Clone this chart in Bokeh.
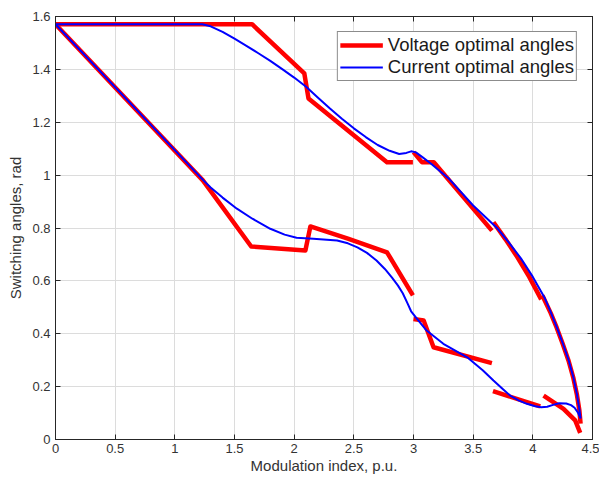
from bokeh.plotting import figure
from bokeh.models import Range1d, FixedTicker, LinearAxis, Legend, LegendItem
from bokeh.embed import file_html
from bokeh.resources import INLINE

# ---- tick values / labels ----
x_ticks = [0, 0.5, 1, 1.5, 2, 2.5, 3, 3.5, 4, 4.5]
x_tick_labels = ["0", "0.5", "1", "1.5", "2", "2.5", "3", "3.5", "4", "4.5"]
y_ticks = [0, 0.2, 0.4, 0.6, 0.8, 1, 1.2, 1.4, 1.6]
y_tick_labels = ["0", "0.2", "0.4", "0.6", "0.8", "1", "1.2", "1.4", "1.6"]

# ---- Voltage optimal angles (red), piecewise segments ----
volt_u1_x = [0, 1.647, 2.085, 2.12, 2.778, 2.995]
volt_u1_y = [1.5708, 1.5708, 1.385, 1.29, 1.049, 1.049]
volt_u2_x = [3.0, 3.07, 3.17, 3.657]
volt_u2_y = [1.087, 1.049, 1.049, 0.79]
volt_u3_x = [3.67, 3.77, 3.87, 3.97, 4.07]
volt_u3_y = [0.822, 0.758, 0.69, 0.615, 0.53]
volt_u4_x = [4.08, 4.15, 4.20, 4.25, 4.30, 4.34, 4.37, 4.39, 4.40]
volt_u4_y = [0.545, 0.478, 0.423, 0.362, 0.297, 0.232, 0.168, 0.11, 0.06]

volt_l1_x = [0, 1.235, 1.64, 2.094, 2.136, 2.45, 2.778, 2.995]
volt_l1_y = [1.5708, 0.98, 0.73, 0.715, 0.806, 0.76, 0.708, 0.545]
volt_l2_x = [3.0, 3.085, 3.168, 3.657]
volt_l2_y = [0.456, 0.45, 0.349, 0.289]
volt_l3_x = [3.666, 4.062]
volt_l3_y = [0.183, 0.125]
volt_l4_x = [4.09, 4.257, 4.355, 4.397]
volt_l4_y = [0.166, 0.116, 0.072, 0.025]

# ---- Current optimal angles (blue) ----
curr_u_x = [0, 1.23, 1.30, 1.40, 1.50, 1.60, 1.70, 1.80, 1.90, 2.00, 2.10, 2.20, 2.30,
            2.40, 2.50, 2.60, 2.70, 2.80, 2.88, 2.94, 2.98, 3.02, 3.08, 3.15, 3.30,
            3.50, 3.70, 3.80, 3.90, 4.00, 4.10, 4.15, 4.20, 4.25, 4.30, 4.34, 4.37,
            4.39, 4.40]
curr_u_y = [1.5708, 1.5708, 1.563, 1.542, 1.516, 1.489, 1.461, 1.432, 1.401, 1.369, 1.334,
            1.293, 1.252, 1.213, 1.177, 1.144, 1.114, 1.092, 1.080, 1.084, 1.090, 1.086,
            1.066, 1.042, 0.985, 0.885, 0.80, 0.745, 0.685, 0.615, 0.535, 0.482, 0.425,
            0.365, 0.30, 0.235, 0.17, 0.115, 0.08]
curr_l_x = [0, 1.24, 1.30, 1.40, 1.52, 1.65, 1.80, 1.92, 2.02, 2.16, 2.36, 2.45, 2.53,
            2.61, 2.69, 2.76, 2.82, 2.87, 2.91, 2.95, 2.98, 3.02, 3.11, 3.25, 3.45, 3.58,
            3.67, 3.75, 3.81, 3.88, 3.95, 4.02, 4.07, 4.12, 4.17, 4.22, 4.28, 4.32, 4.35,
            4.38, 4.40]
curr_l_y = [1.5708, 0.98, 0.953, 0.915, 0.873, 0.835, 0.797, 0.775, 0.763, 0.759, 0.753,
            0.742, 0.727, 0.706, 0.677, 0.645, 0.612, 0.582, 0.553, 0.515, 0.485, 0.462,
            0.412, 0.362, 0.311, 0.262, 0.223, 0.19, 0.166, 0.148, 0.135, 0.126, 0.122,
            0.124, 0.131, 0.137, 0.136, 0.13, 0.12, 0.10, 0.08]

FONT = "Liberation Sans"
TXT = "#333333"
AX = "#262626"

p = figure(width=599, height=477, output_backend="svg", toolbar_location=None,
           x_range=Range1d(0, 4.5), y_range=Range1d(0, 1.6),
           min_border_left=55, min_border_right=7, min_border_top=16, min_border_bottom=38)
p.background_fill_color = "white"
p.border_fill_color = "white"
p.outline_line_color = AX
p.outline_line_width = 1

xt = FixedTicker(ticks=x_ticks)
yt = FixedTicker(ticks=y_ticks)


def style_axis(ax, ticker, labels=None):
    ax.ticker = ticker
    if labels is not None:
        ax.major_label_overrides = {t: l for t, l in zip(ticker.ticks, labels)}
    ax.axis_line_color = AX
    ax.major_tick_line_color = AX
    ax.major_tick_in = 5
    ax.major_tick_out = 0
    ax.minor_tick_line_color = None
    ax.major_label_text_font = FONT
    ax.major_label_text_font_size = "13px"
    ax.major_label_text_color = TXT


style_axis(p.xaxis[0], xt, x_tick_labels)
style_axis(p.yaxis[0], yt, y_tick_labels)
p.xaxis[0].major_label_standoff = 4
p.yaxis[0].major_label_standoff = 5
p.xaxis.axis_label = "Modulation index, p.u."
p.yaxis.axis_label = "Switching angles, rad"
for ax in (p.xaxis[0], p.yaxis[0]):
    ax.axis_label_text_font = FONT
    ax.axis_label_text_font_size = "15px"
    ax.axis_label_text_font_style = "normal"
    ax.axis_label_text_color = TXT
p.xaxis[0].axis_label_standoff = 1
p.yaxis[0].axis_label_standoff = 5

# top and right axes: ticks only (box style), no labels
top_ax = LinearAxis()
style_axis(top_ax, FixedTicker(ticks=x_ticks))
top_ax.major_label_text_color = None
top_ax.major_label_text_font_size = "1px"
top_ax.major_label_standoff = 0
top_ax.major_label_overrides = {t: "" for t in x_ticks}
p.add_layout(top_ax, "above")
right_ax = LinearAxis()
style_axis(right_ax, FixedTicker(ticks=y_ticks))
right_ax.major_label_text_color = None
right_ax.major_label_text_font_size = "1px"
right_ax.major_label_standoff = 0
right_ax.major_label_overrides = {t: "" for t in y_ticks}
p.add_layout(right_ax, "right")

p.grid.grid_line_color = "#dcdcdc"
p.grid.grid_line_width = 1
p.xgrid.ticker = xt
p.ygrid.ticker = yt

red = p.multi_line(
    xs=[volt_u1_x, volt_u2_x, volt_u3_x, volt_u4_x, volt_l1_x, volt_l2_x, volt_l3_x, volt_l4_x],
    ys=[volt_u1_y, volt_u2_y, volt_u3_y, volt_u4_y, volt_l1_y, volt_l2_y, volt_l3_y, volt_l4_y],
    line_color="#ff0000", line_width=4.5, line_join="round")
blue = p.multi_line(xs=[curr_u_x, curr_l_x], ys=[curr_u_y, curr_l_y],
                    line_color="#0000ff", line_width=2, line_join="round")

legend = Legend(items=[LegendItem(label="Voltage optimal angles", renderers=[red]),
                       LegendItem(label="Current optimal angles", renderers=[blue])],
                location="top_right")
legend.margin = 15
legend.padding = 2
legend.spacing = 0
legend.glyph_width = 43
legend.glyph_height = 20
legend.label_height = 20
legend.label_standoff = 5
legend.label_text_font = FONT
legend.label_text_font_size = "18.5px"
legend.label_text_color = "#1a1a1a"
legend.border_line_color = "#1a1a1a"
legend.border_line_width = 1
legend.background_fill_color = "white"
legend.background_fill_alpha = 1
p.add_layout(legend, "center")

open("out.html", "w").write(file_html(p, INLINE))
